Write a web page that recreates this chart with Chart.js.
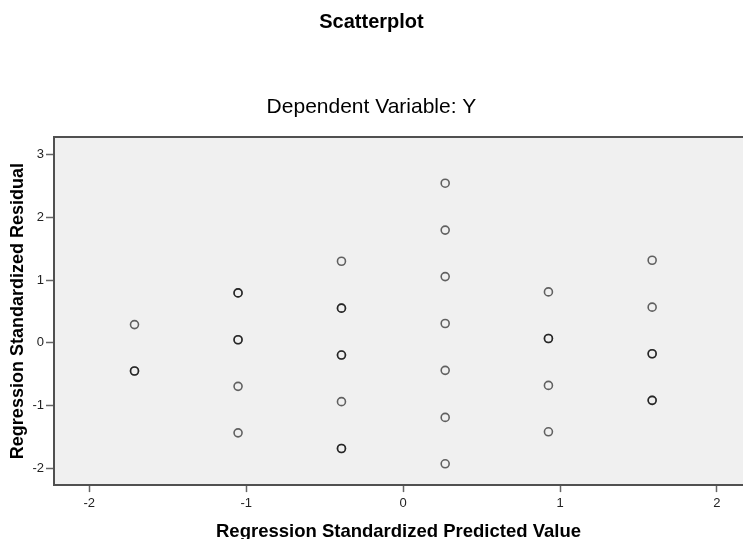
<!DOCTYPE html>
<html>
<head>
<meta charset="utf-8">
<script src="https://cdn.jsdelivr.net/npm/chart.js@4/dist/chart.umd.min.js"></script>
<style>
  html, body { margin: 0; padding: 0; background: #fff; overflow: hidden; }
  #wrap { width: 743px; height: 539px; position: relative; }
</style>
</head>
<body>
<div id="wrap"><canvas id="chart"></canvas></div>
<script>
// one entry per case; repeated pairs are overlapping cases (drawn darker)
var predicted = [
  -1.712, -1.712, -1.712,
  -1.052, -1.052, -1.052, -1.052, -1.052, -1.052,
  -0.393, -0.393, -0.393, -0.393, -0.393, -0.393, -0.393, -0.393,
  0.268, 0.268, 0.268, 0.268, 0.268, 0.268, 0.268,
  0.926, 0.926, 0.926, 0.926, 0.926,
  1.587, 1.587, 1.587, 1.587, 1.587, 1.587
];
var residual = [
  0.29, -0.45, -0.45,
  0.795, 0.795, 0.048, 0.048, -0.695, -1.437,
  1.30, 0.552, 0.552, -0.196, -0.196, -0.939, -1.686, -1.686,
  2.545, 1.797, 1.055, 0.307, -0.44, -1.19, -1.93,
  0.811, 0.068, 0.068, -0.68, -1.42,
  1.316, 0.568, -0.175, -0.175, -0.918, -0.918
];
var xTicks = [-2, -1, 0, 1, 2];
var yTicks = [-2, -1, 0, 1, 2, 3];

var points = predicted.map(function (x, i) { return {x: x, y: residual[i]}; });

var FONT = "'Liberation Sans', Arial, sans-serif";

var plotFrame = {
  id: "plotFrame",
  beforeDatasetsDraw: function (chart) {
    var a = chart.chartArea, ctx = chart.ctx;
    ctx.save();
    ctx.fillStyle = "#f0f0f0";
    ctx.fillRect(a.left, a.top, a.right - a.left, a.bottom - a.top);
    ctx.strokeStyle = "#505050";
    ctx.lineWidth = 2;
    ctx.beginPath();
    ctx.moveTo(a.right + 2, a.top);
    ctx.lineTo(a.left, a.top);
    ctx.lineTo(a.left, a.bottom);
    ctx.lineTo(a.right + 2, a.bottom);
    ctx.stroke();
    ctx.restore();
  }
};

new Chart(document.getElementById("chart"), {
  type: "scatter",
  data: {
    datasets: [{
      data: points,
      pointStyle: "circle",
      pointRadius: 4,
      pointHoverRadius: 4,
      pointBorderWidth: 1.6,
      borderColor: "rgba(0,0,0,0.6)",
      backgroundColor: "rgba(0,0,0,0)"
    }]
  },
  options: {
    responsive: true,
    maintainAspectRatio: false,
    animation: false,
    layout: {autoPadding: false, padding: {left: 0, right: 0, top: 0, bottom: 0}},
    plugins: {
      legend: {display: false},
      tooltip: {enabled: false},
      title: {
        display: true,
        text: "Scatterplot",
        color: "#000",
        font: {family: FONT, size: 20, weight: "bold", lineHeight: 1.2},
        padding: {top: 10, bottom: 0}
      },
      subtitle: {
        display: true,
        text: "Dependent Variable: Y",
        color: "#000",
        font: {family: FONT, size: 21, weight: "normal", lineHeight: 1.2},
        padding: {top: 61, bottom: 16.9}
      }
    },
    scales: {
      x: {
        type: "linear",
        min: -2.225,
        max: 2.166,
        afterBuildTicks: function (scale) {
          scale.ticks = xTicks.map(function (v) { return {value: v}; });
        },
        ticks: {
          color: "#222",
          padding: 4,
          font: {family: FONT, size: 13},
          maxRotation: 0
        },
        grid: {drawOnChartArea: false, drawTicks: true, tickLength: 7, tickColor: "#666", tickWidth: 1.5},
        border: {display: false},
        title: {
          display: true,
          text: "Regression Standardized Predicted Value",
          color: "#000",
          font: {family: FONT, size: 18.5, weight: "bold", lineHeight: 1},
          padding: {top: 6.8, bottom: -2}
        }
      },
      y: {
        type: "linear",
        min: -2.27,
        max: 3.28,
        afterBuildTicks: function (scale) {
          scale.ticks = yTicks.map(function (v) { return {value: v}; });
        },
        afterFit: function (scale) { scale.width = 54; },
        ticks: {
          color: "#222",
          padding: 2,
          font: {family: FONT, size: 13}
        },
        grid: {drawOnChartArea: false, drawTicks: true, tickLength: 8, tickColor: "#666", tickWidth: 1.5},
        border: {display: false},
        title: {
          display: true,
          text: "Regression Standardized Residual",
          color: "#000",
          font: {family: FONT, size: 18, weight: "bold", lineHeight: 1},
          padding: {top: 9, bottom: 0}
        }
      }
    }
  },
  plugins: [plotFrame]
});
</script>
</body>
</html>
